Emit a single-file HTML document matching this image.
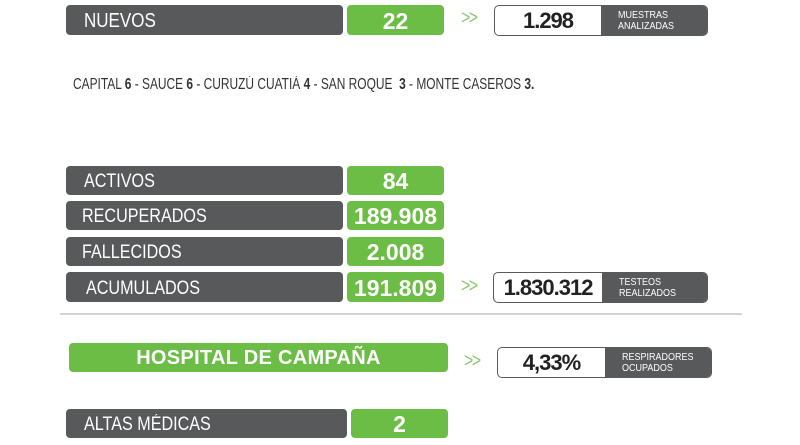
<!DOCTYPE html>
<html><head><meta charset="utf-8"><style>
body{margin:0;width:800px;height:445px;background:#fff;position:relative;overflow:hidden;font-family:"Liberation Sans",sans-serif;}
.b{position:absolute;box-sizing:border-box;}
.n{display:inline-block;transform:scaleX(0.85);transform-origin:left center;white-space:nowrap;}
.g{background:#58595b;color:#fff;border-radius:4px;font-size:19px;padding-left:18px;padding-top:3px;display:flex;align-items:center;}
.v{background:#6cbd45;color:#fff;border-radius:4px;font-size:23px;font-weight:bold;display:flex;align-items:center;justify-content:center;padding-top:2px;}
.box{border:1.5px solid #58595b;border-radius:5px;overflow:hidden;display:flex;background:#fff;}
.box .w{flex:0 0 auto;display:flex;align-items:center;justify-content:center;font-weight:bold;font-size:22px;color:#222;letter-spacing:-1px;}
.box .d{flex:1;background:#58595b;color:#fff;font-size:10px;line-height:11px;padding-left:17px;display:flex;flex-direction:column;justify-content:center;}
.box .d span{display:block;transform:scaleX(0.9);transform-origin:left;}
.ar{position:absolute;color:#8cc870;font-size:20px;letter-spacing:-2px;transform:scaleX(0.8);transform-origin:left;}
</style></head><body>
<div class="b g" style="left:66px;top:5px;width:277px;height:30px;font-size:20px"><span class="n">NUEVOS</span></div>
<div class="b v" style="left:347px;top:5px;width:97px;height:30px">22</div>
<div class="ar" style="left:461px;top:7px">&gt;&gt;</div>
<div class="b box" style="left:494px;top:5px;width:214px;height:31px"><div class="w" style="width:106px">1.298</div><div class="d"><span>MUESTRAS</span><span>ANALIZADAS</span></div></div>
<div class="b" style="left:73px;top:76px;font-size:15.5px;color:#333;white-space:nowrap;transform:scaleX(0.77);transform-origin:left">CAPITAL <b>6</b> - SAUCE <b>6</b> - CURUZÚ CUATIÁ <b>4</b> - SAN ROQUE &nbsp;<b>3</b> - MONTE CASEROS <b>3.</b></div>

<div class="b g" style="left:66px;top:166px;width:277px;height:29px"><span class="n">ACTIVOS</span></div>
<div class="b v" style="left:347px;top:166px;width:97px;height:29px">84</div>
<div class="b g" style="left:66px;top:201px;width:277px;height:29px;padding-left:16px"><span class="n">RECUPERADOS</span></div>
<div class="b v" style="left:347px;top:201px;width:97px;height:29px">189.908</div>
<div class="b g" style="left:66px;top:237px;width:277px;height:29px;padding-left:16px"><span class="n">FALLECIDOS</span></div>
<div class="b v" style="left:347px;top:237px;width:97px;height:29px">2.008</div>
<div class="b g" style="left:66px;top:272px;width:277px;height:30px;padding-left:20px"><span class="n">ACUMULADOS</span></div>
<div class="b v" style="left:347px;top:272px;width:97px;height:30px">191.809</div>
<div class="ar" style="left:461px;top:275px">&gt;&gt;</div>
<div class="b box" style="left:493px;top:272px;width:215px;height:31px"><div class="w" style="width:108px">1.830.312</div><div class="d"><span>TESTEOS</span><span>REALIZADOS</span></div></div>

<div class="b" style="left:60px;top:313px;width:682px;height:2px;background:#d4d4d4"></div>

<div class="b v" style="left:69px;top:343px;width:379px;height:29px;font-size:20px;letter-spacing:0.3px">HOSPITAL DE CAMPAÑA</div>
<div class="ar" style="left:464px;top:350px">&gt;&gt;</div>
<div class="b box" style="left:497px;top:347px;width:215px;height:31px"><div class="w" style="width:107px">4,33%</div><div class="d"><span>RESPIRADORES</span><span>OCUPADOS</span></div></div>

<div class="b g" style="left:66px;top:409px;width:281px;height:29px"><span class="n">ALTAS MÉDICAS</span></div>
<div class="b v" style="left:351px;top:409px;width:97px;height:29px">2</div>
</body></html>
